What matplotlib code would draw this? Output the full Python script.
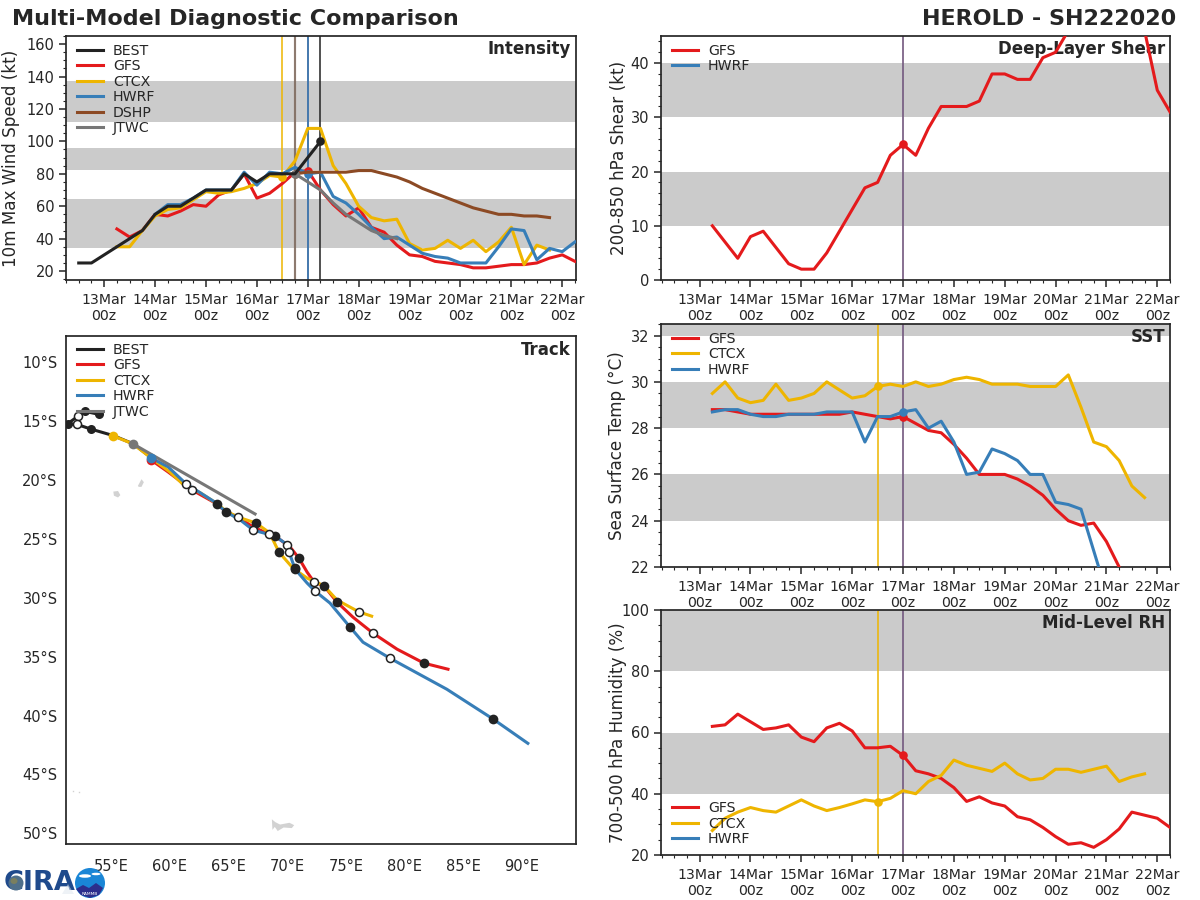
import numpy as np
import matplotlib
matplotlib.use('Agg')
import matplotlib.pyplot as plt
from matplotlib.ticker import MultipleLocator
from matplotlib.patches import Circle, Polygon, Ellipse

W, H = 1200, 900
INK = '#262626'
RED, GOLD, BLUE, BROWN, GRAY, BLACK = '#e41a1c', '#eeb500', '#377eb8', '#8c4a24', '#777777', '#222222'
BAND = '#cbcbcb'

# ---------------- time axis values (days of March)
DAYS = [13, 14, 15, 16, 17, 18, 19, 20, 21, 22]
DAY_LABELS = [f'{d}Mar\n00z' for d in DAYS]

# ---------------- intensity (kt)
best_t = [12.5, 12.75, 13, 13.25, 13.5, 13.75, 14, 14.25, 14.5, 14.75, 15, 15.25, 15.5, 15.75, 16, 16.25, 16.5, 16.75, 17, 17.25]
best_v = [25, 25, 30, 35, 40, 45, 55, 60, 60, 65, 70, 70, 70, 80, 75, 80, 80, 80, 90, 100]
gfs_t = [13.25 + .25 * i for i in range(37)]
gfs_v = [46, 41, 45, 55, 54, 57, 61, 60, 67, 70, 80, 65, 68, 74, 81, 82, 70, 61, 54, 59, 47, 44, 36, 30, 29, 26, 25, 24, 22, 22, 23, 24, 24, 25, 28, 30, 26]
ctcx_t = [13.25 + .25 * i for i in range(35)]
ctcx_v = [35, 35, 45, 54, 58, 59, 64, 69, 68, 69, 71, 74, 79, 78, 88, 108, 108, 85, 74, 60, 53, 51, 52, 37, 33, 34, 39, 34, 39, 32, 38, 47, 24, 36, 33]
hwrf_t = [14 + .25 * i for i in range(34)]
hwrf_v = [55, 61, 61, 65, 70, 70, 70, 81, 73, 81, 80, 84, 80, 81, 66, 62, 55, 47, 40, 41, 36, 31, 29, 28, 25, 25, 25, 35, 46, 45, 27, 34, 32, 38]
dshp_t = [16.75 + .25 * i for i in range(21)]
dshp_v = [80, 81, 81, 81, 81, 82, 82, 80, 78, 75, 71, 68, 65, 62, 59, 57, 55, 55, 54, 54, 53]
jtwc_t = [16.75, 17, 17.25, 17.5, 17.75, 18, 18.25, 18.5, 18.75]
jtwc_v = [80, 75, 70, 62, 55, 50, 45, 42, 40]

# ---------------- shear (kt)
shear_t = [13.25 + .25 * i for i in range(37)]
shear_v = [10, 7, 4, 8, 9, 6, 3, 2, 2, 5, 9, 13, 17, 18, 23, 25, 23, 28, 32, 32, 32, 33, 38, 38, 37, 37, 41, 42, 46, 48, 50, 52, 54, 52, 46, 35, 31]

# ---------------- SST (deg C)
sst_gfs_t = [13.25 + .25 * i for i in range(33)]
sst_gfs = [28.8, 28.8, 28.7, 28.6, 28.6, 28.6, 28.6, 28.6, 28.6, 28.6, 28.6, 28.7, 28.6, 28.5, 28.4, 28.5, 28.2, 27.9, 27.8, 27.3, 26.7, 26.0, 26.0, 26.0, 25.8, 25.5, 25.1, 24.5, 24.0, 23.8, 23.9, 23.1, 22.0]
sst_ctcx_t = [13.25 + .25 * i for i in range(35)]
sst_ctcx = [29.5, 30.0, 29.3, 29.1, 29.2, 29.9, 29.2, 29.3, 29.5, 30.0, 29.65, 29.3, 29.4, 29.8, 29.9, 29.8, 30.0, 29.8, 29.9, 30.1, 30.2, 30.1, 29.9, 29.9, 29.9, 29.8, 29.8, 29.8, 30.3, 28.9, 27.4, 27.2, 26.6, 25.5, 25.0]
sst_hwrf_t = [13.25 + .25 * i for i in range(32)]
sst_hwrf = [28.7, 28.8, 28.8, 28.6, 28.5, 28.5, 28.6, 28.6, 28.6, 28.7, 28.7, 28.7, 27.4, 28.5, 28.5, 28.7, 28.8, 28.0, 28.3, 27.4, 26.0, 26.1, 27.1, 26.9, 26.6, 26.0, 26.0, 24.8, 24.7, 24.5, 22.7, 20.9]

# ---------------- RH (%)
rh_gfs_t = [13.25 + .25 * i for i in range(37)]
rh_gfs = [62, 62.5, 66, 63.5, 61, 61.5, 62.5, 58.5, 57, 61.5, 63, 60.5, 55, 55, 55.5, 52.5, 47.5, 46.5, 45, 42, 37.5, 39, 37, 36, 32.5, 31.5, 29, 26, 23.5, 24, 22.5, 25, 28.5, 34, 33, 32, 29]
rh_ctcx_t = [13.25 + .25 * i for i in range(35)]
rh_ctcx = [28, 32, 34, 35.5, 34.5, 34, 36, 38, 36, 34.5, 35.5, 36.7, 38, 37.4, 38.5, 41, 40, 44, 46, 51, 49.3, 48.3, 47.3, 50, 46.5, 44.5, 45, 48, 48, 47, 48, 49, 44, 45.5, 46.5]

# ---------------- tracks (lon E, lat S)
trk_best_lon = [54.0, 52.8, 52.2, 51.3, 52.1, 53.3, 55.2, 56.9, 58.4]
trk_best_lat = [14.45, 14.2, 14.6, 15.25, 15.3, 15.7, 16.25, 16.95, 18.1]
trk_gfs_lon = [58.41, 59.86, 61.9, 64.03, 64.8, 65.8, 67.1, 68.46, 68.97, 70.25, 71.0, 71.7, 72.3, 73.14, 74.25, 75.6, 77.3, 79.36, 81.66, 83.7]
trk_gfs_lat = [18.31, 19.33, 20.86, 22.05, 22.73, 23.16, 24.0, 24.6, 24.77, 25.7, 26.64, 27.83, 28.68, 29.0, 30.38, 31.65, 33.0, 34.37, 35.56, 36.07]
trk_ctcx_lon = [55.17, 56.87, 58.3, 60.0, 61.1, 62.6, 64.0, 64.8, 65.8, 67.35, 68.3, 68.8, 69.3, 70.5, 71.7, 73.14, 74.25, 76.1, 77.2]
trk_ctcx_lat = [16.27, 16.95, 18.06, 19.33, 20.35, 21.1, 22.0, 22.65, 23.16, 23.67, 24.35, 25.1, 26.13, 27.5, 28.34, 29.0, 30.2, 31.2, 31.57]
trk_hwrf_lon = [58.4, 59.86, 61.4, 62.6, 63.86, 64.8, 66.0, 67.1, 67.7, 68.97, 70.0, 70.16, 70.67, 71.7, 72.38, 73.65, 75.36, 76.46, 78.76, 83.6, 87.54, 90.5]
trk_hwrf_lat = [18.14, 18.9, 20.35, 21.1, 21.9, 22.73, 23.4, 24.26, 24.43, 24.77, 25.5, 26.1, 27.57, 28.76, 29.44, 30.46, 32.5, 33.78, 35.14, 37.77, 40.3, 42.36]
trk_jtwc_lon = [56.87, 67.27]
trk_jtwc_lat = [16.95, 22.9]

# 00z / 12z position dots
dot_best_lon = [54.0, 52.8, 51.3, 53.3]
dot_best_lat = [14.45, 14.2, 15.25, 15.7]
open_best_lon = [52.2, 52.1]
open_best_lat = [14.6, 15.3]
dot_fc_lon = [64.03, 64.8, 67.35, 68.97, 69.3, 71.0, 70.67, 70.67, 73.14, 74.25, 75.36, 81.66, 87.54]
dot_fc_lat = [22.05, 22.73, 23.67, 24.77, 26.13, 26.64, 27.5, 27.6, 29.0, 30.38, 32.5, 35.56, 40.3]
open_fc_lon = [61.4, 61.9, 65.8, 67.1, 68.46, 70.0, 70.16, 72.3, 72.38, 76.1, 77.3, 78.76]
open_fc_lat = [20.35, 20.86, 23.16, 24.26, 24.6, 25.5, 26.1, 28.68, 29.44, 31.2, 33.0, 35.14]

# small islands
isl_a_lon = [55.2, 55.6, 55.8, 55.6, 55.25]
isl_a_lat = [21.0, 20.95, 21.3, 21.5, 21.35]
isl_b_lon = [57.3, 57.6, 57.8, 57.6, 57.35]
isl_b_lat = [20.5, 19.95, 20.2, 20.6, 20.6]
isl_c_lon = [68.7, 69.0, 69.4, 70.2, 70.6, 70.4, 69.7, 69.2, 68.95, 68.75]
isl_c_lat = [48.8, 49.05, 49.25, 49.1, 49.3, 49.55, 49.5, 49.8, 49.45, 49.7]
isl_d_lon = [51.75, 52.25]
isl_d_lat = [46.4, 46.45]


def axes_px(fig, l, t, r, b):
    return fig.add_axes([l / W, 1 - b / H, (r - l) / W, (b - t) / H])


plt.rcParams.update({
    'font.family': 'DejaVu Sans', 'text.color': INK, 'axes.labelcolor': INK,
    'xtick.color': INK, 'ytick.color': INK, 'axes.edgecolor': INK, 'axes.linewidth': 1.25,
})
fig = plt.figure(figsize=(12, 9), dpi=100)
fig.patch.set_facecolor('white')
TICK_FS = 10.2
LW = 2.2


def style_time(ax, ylim, ylabel, title, bands, ymajor, yminor, label_x, xlim=(12.24, 22.25)):
    ax.set_xlim(*xlim)
    ax.set_ylim(*ylim)
    for lo, hi in bands:
        ax.axhspan(lo, hi, color=BAND, lw=0, zorder=0)
    ax.set_xticks(DAYS)
    ax.set_xticklabels(DAY_LABELS, fontsize=TICK_FS, linespacing=1.2)
    ax.xaxis.set_minor_locator(MultipleLocator(.25))
    ax.yaxis.set_major_locator(MultipleLocator(ymajor))
    ax.yaxis.set_minor_locator(MultipleLocator(yminor))
    ax.tick_params(axis='y', which='major', labelsize=TICK_FS + .3, length=5, width=1.1)
    ax.tick_params(axis='x', which='major', length=5, width=1.1, pad=4.2)
    ax.tick_params(which='minor', length=2.5, width=.8)
    ax.set_ylabel(ylabel, fontsize=12.1)
    ax.yaxis.set_label_coords(label_x, .5)
    ax.text(.990, .985, title, transform=ax.transAxes, ha='right', va='top', fontsize=12, fontweight='bold')


def vline(ax, x, c, lw=1.1, alpha=1):
    ax.axvline(x, color=c, lw=lw, alpha=alpha, zorder=1.5)


def series(ax, t, v, c, label, mark=None, lw=LW, z=3):
    ax.plot(t, v, color=c, lw=lw, label=label, zorder=z, solid_joinstyle='round')
    if mark is not None:
        i = t.index(mark)
        ax.plot([t[i]], [v[i]], 'o', color=c, ms=6.2, zorder=z + .05, mew=0)


LEG = dict(frameon=False, fontsize=10.2, handlelength=1.85, labelspacing=.1, handletextpad=.7,
           borderaxespad=.3)


def legend(ax, loc='upper left', anchor=(0.002, 1.008)):
    ax.legend(loc=loc, bbox_to_anchor=anchor, **LEG)


# Intensity
ax = axes_px(fig, 66, 36, 576, 280)
style_time(ax, (14.5, 165), '10m Max Wind Speed (kt)', 'Intensity', [(34, 64.5), (82.5, 96), (112, 137.5)], 20, 5, -46 / 510, (12.25, 22.27))
vline(ax, 16.5, GOLD)
vline(ax, 16.75, BROWN, 1.5, .7)
vline(ax, 16.75, GRAY, 1.5, .6)
vline(ax, 17, RED, 1.1, .9)
vline(ax, 17, BLUE, 1.3)
vline(ax, 17.25, BLACK)
series(ax, gfs_t, gfs_v, RED, 'GFS', 17, z=3.1)
series(ax, ctcx_t, ctcx_v, GOLD, 'CTCX', 16.5, z=3.2)
series(ax, hwrf_t, hwrf_v, BLUE, 'HWRF', 17, z=3.3)
series(ax, dshp_t, dshp_v, BROWN, 'DSHP', 16.75, z=3.4)
series(ax, jtwc_t, jtwc_v, GRAY, 'JTWC', 16.75, z=3.5)
series(ax, best_t, best_v, BLACK, 'BEST', 17.25, z=3.6)
h, l = ax.get_legend_handles_labels()
order = ['BEST', 'GFS', 'CTCX', 'HWRF', 'DSHP', 'JTWC']
hh = [h[l.index(n)] for n in order]
ax.legend(hh, order, loc='upper left', bbox_to_anchor=(0.002, 1.008), **LEG)

# Shear
ax = axes_px(fig, 661, 36, 1170, 280)
style_time(ax, (0, 45), '200-850 hPa Shear (kt)', 'Deep-Layer Shear', [(10, 20), (30, 40)], 10, 2, -33 / 509)
vline(ax, 17, RED, 1.2, .8)
vline(ax, 17, BLUE, 1.2, .65)
series(ax, shear_t, shear_v, RED, 'GFS', 17)
ax.plot([], [], color=BLUE, lw=LW, label='HWRF')
legend(ax)

# SST
ax = axes_px(fig, 661, 324, 1170, 567)
style_time(ax, (22, 32.5), 'Sea Surface Temp (°C)', 'SST', [(24, 26), (28, 30), (32, 34)], 2, .5, -35 / 509)
vline(ax, 16.5, GOLD)
vline(ax, 17, RED, 1.2, .8)
vline(ax, 17, BLUE, 1.2, .65)
series(ax, sst_gfs_t, sst_gfs, RED, 'GFS', 17)
series(ax, sst_ctcx_t, sst_ctcx, GOLD, 'CTCX', 16.5)
series(ax, sst_hwrf_t, sst_hwrf, BLUE, 'HWRF', 17)
legend(ax)

# RH
ax = axes_px(fig, 661, 610, 1170, 855)
style_time(ax, (20, 100), '700-500 hPa Humidity (%)', 'Mid-Level RH', [(40, 60), (80, 100)], 20, 5, -34 / 509)
vline(ax, 16.5, GOLD)
vline(ax, 17, RED, 1.2, .8)
vline(ax, 17, BLUE, 1.2, .65)
series(ax, rh_gfs_t, rh_gfs, RED, 'GFS', 17)
series(ax, rh_ctcx_t, rh_ctcx, GOLD, 'CTCX', 16.5)
ax.plot([], [], color=BLUE, lw=LW, label='HWRF')
legend(ax, 'lower left', (0.002, -0.004))

# Track
ax = axes_px(fig, 66, 336, 576, 844)
ax.set_xlim(51.17, 94.6)
ax.set_ylim(-50.9, -7.8)
ax.set_xticks(range(55, 95, 5))
ax.set_xticklabels([f'{x}°E' for x in range(55, 95, 5)], fontsize=10.5)
ax.set_yticks([-y for y in range(10, 55, 5)])
ax.set_yticklabels([f'{y}°S' for y in range(10, 55, 5)], fontsize=10.5)
ax.tick_params(axis='x', length=0, pad=11)
ax.tick_params(axis='y', length=0, pad=6)
ax.text(.990, .99, 'Track', transform=ax.transAxes, ha='right', va='top', fontsize=12, fontweight='bold')
for ilon, ilat in [(isl_a_lon, isl_a_lat), (isl_b_lon, isl_b_lat), (isl_c_lon, isl_c_lat)]:
    ax.fill(ilon, [-v for v in ilat], color='#d2d2d2', lw=0, zorder=1)
ax.plot(isl_d_lon, [-v for v in isl_d_lat], 's', color='#d2d2d2', ms=1, mew=0, zorder=1)
ax.plot(trk_best_lon, [-v for v in trk_best_lat], color=BLACK, lw=LW, label='BEST', zorder=2)
ax.plot(trk_gfs_lon, [-v for v in trk_gfs_lat], color=RED, lw=LW, label='GFS', zorder=3)
ax.plot(trk_ctcx_lon, [-v for v in trk_ctcx_lat], color=GOLD, lw=LW, label='CTCX', zorder=3.1)
ax.plot(trk_hwrf_lon, [-v for v in trk_hwrf_lat], color=BLUE, lw=LW, label='HWRF', zorder=3.2)
ax.plot(trk_jtwc_lon, [-v for v in trk_jtwc_lat], color=GRAY, lw=LW, label='JTWC', zorder=3.3)
ax.plot(dot_best_lon, [-v for v in dot_best_lat], 'o', color=BLACK, ms=6.5, mew=0, zorder=3.4)
ax.plot(dot_fc_lon, [-v for v in dot_fc_lat], 'o', color=BLACK, ms=7, mew=0, zorder=3.4)
ax.plot(open_best_lon + open_fc_lon, [-v for v in open_best_lat + open_fc_lat], 'o', mfc='white', mec=BLACK, mew=1.1, ms=5.8, zorder=3.5)
ax.plot([trk_ctcx_lon[0]], [-trk_ctcx_lat[0]], 'o', color=GOLD, ms=7, mew=0, zorder=3.6)
ax.plot([trk_jtwc_lon[0]], [-trk_jtwc_lat[0]], 'o', color=GRAY, ms=7, mew=0, zorder=3.6)
ax.plot([trk_gfs_lon[0]], [-trk_gfs_lat[0]], 'o', color=RED, ms=7, mew=0, zorder=3.6)
ax.plot([trk_hwrf_lon[0]], [-trk_hwrf_lat[0]], 'o', color=BLUE, ms=7, mew=0, zorder=3.7)
legend(ax, 'upper left', (0.002, 1.006))

# Titles
fig.text(12 / W, 1 - 19 / H, 'Multi-Model Diagnostic Comparison', fontsize=16, fontweight='bold', va='center', ha='left')
fig.text(1176 / W, 1 - 19 / H, 'HEROLD - SH222020', fontsize=16, fontweight='bold', va='center', ha='right')

# Logo
logo = fig.add_axes([0, 0, 110 / W, 34 / H])
logo.set_xlim(0, 110)
logo.set_ylim(34, 0)
logo.axis('off')
logo.text(40, 17.5, 'CIRA', fontsize=19.5, fontweight='bold', color='#1f4a8c', ha='center', va='center', zorder=2)
logo.add_patch(Circle((16, 17), 7.5, color='#4f6f8a', lw=0, zorder=3))
logo.add_patch(Ellipse((14, 15), 7, 6, color='#7a7f5f', lw=0, zorder=4))
logo.add_patch(Polygon([[62, 28], [68, 18], [74, 28]], color='#dfe6ef', lw=0, zorder=3, alpha=.5))
logo.add_patch(Circle((90, 17), 15, color='#1a86d6', lw=0))
logo.add_patch(Polygon([[76, 23], [83, 19], [89, 22], [96, 17], [103, 22], [99, 29], [90, 32], [81, 29]], color='#2c2e8c', lw=0))
logo.add_patch(Ellipse((85, 10), 12, 3.5, color='white', lw=0))
logo.add_patch(Ellipse((96, 8), 9, 2.5, color='white', lw=0))
logo.text(90, 28, 'RAMMB', fontsize=3.2, color='white', ha='center', va='center')

fig.savefig('out.png', dpi=100)
